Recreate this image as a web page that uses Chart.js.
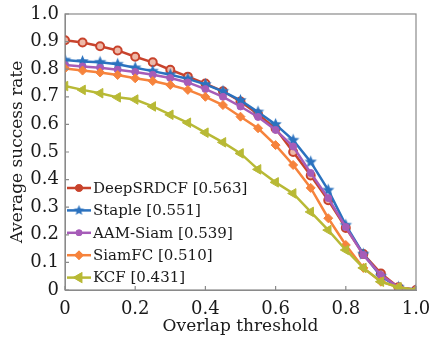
<!DOCTYPE html>
<html>
<head>
<meta charset="utf-8">
<script src="https://cdn.jsdelivr.net/npm/chart.js@4.4.1/dist/chart.umd.min.js"></script>
<style>
html,body{margin:0;padding:0;background:#fff;}
</style>
</head>
<body>
<canvas id="graph1" width="431" height="340"></canvas>
<script>
// overlap thresholds (x)
const thresholds = [0, 0.05, 0.1, 0.15, 0.2, 0.25, 0.3, 0.35, 0.4, 0.45, 0.5, 0.55, 0.6, 0.65, 0.7, 0.75, 0.8, 0.85, 0.9, 0.95, 1.0];

const names = ['DeepSRDCF [0.563]', 'Staple [0.551]', 'AAM-Siam [0.539]', 'SiamFC [0.510]', 'KCF [0.431]'];

const deepsrdcf = [0.905, 0.897, 0.883, 0.868, 0.845, 0.825, 0.798, 0.773, 0.748, 0.72, 0.683, 0.637, 0.585, 0.50, 0.415, 0.325, 0.225, 0.13, 0.06, 0.01, 0];
const staple    = [0.833, 0.828, 0.825, 0.818, 0.805, 0.793, 0.78, 0.765, 0.745, 0.72, 0.687, 0.645, 0.60, 0.543, 0.464, 0.362, 0.235, 0.13, 0.05, 0.01, 0];
const aamsiam   = [0.815, 0.81, 0.805, 0.798, 0.79, 0.78, 0.768, 0.752, 0.728, 0.70, 0.665, 0.627, 0.58, 0.52, 0.424, 0.333, 0.228, 0.127, 0.054, 0.01, 0];
const siamfc    = [0.803, 0.795, 0.788, 0.779, 0.767, 0.757, 0.743, 0.725, 0.70, 0.67, 0.628, 0.586, 0.525, 0.453, 0.37, 0.26, 0.163, 0.08, 0.03, 0.01, 0];
const kcf       = [0.739, 0.725, 0.713, 0.698, 0.69, 0.665, 0.635, 0.606, 0.57, 0.535, 0.495, 0.437, 0.39, 0.35, 0.283, 0.217, 0.145, 0.08, 0.03, 0.01, 0];

const xTicks = [0, 0.2, 0.4, 0.6, 0.8, 1.0];
const yTicks = [0, 0.1, 0.2, 0.3, 0.4, 0.5, 0.6, 0.7, 0.8, 0.9, 1.0];

const colors = ['#c8432c', '#2b72bf', '#a65cb8', '#f6833c', '#b8b935'];
const serif = "'DejaVu Serif', serif";

// filled 5 point star for Staple
function makeStar(r, color) {
    const c = document.createElement('canvas');
    c.width = c.height = r * 2 + 2;
    const g = c.getContext('2d');
    g.fillStyle = color;
    g.beginPath();
    for (let i = 0; i < 10; i++) {
        const rad = i % 2 ? r * 0.45 : r;
        const a = -Math.PI / 2 + i * Math.PI / 5;
        g.lineTo(r + 1 + rad * Math.cos(a), r + 1 + rad * Math.sin(a));
    }
    g.closePath();
    g.fill();
    return c;
}
const star = makeStar(6.5, colors[1]);
const starSmall = makeStar(5.5, colors[1]);

function pts(vals) {
    return thresholds.map((t, i) => ({x: t, y: vals[i]}));
}

const datasets = [
    {label: names[0], data: pts(deepsrdcf), borderColor: colors[0], backgroundColor: '#eeb9a8',
     pointStyle: 'circle', pointRadius: 4, pointBorderWidth: 2, order: 5},
    {label: names[1], data: pts(staple), borderColor: colors[1], backgroundColor: colors[1],
     pointStyle: star, order: 4},
    {label: names[2], data: pts(aamsiam), borderColor: colors[2], backgroundColor: colors[2],
     pointStyle: 'circle', pointRadius: 3.5, pointBorderWidth: 1, order: 3},
    {label: names[3], data: pts(siamfc), borderColor: colors[3], backgroundColor: colors[3],
     pointStyle: 'rectRot', pointRadius: 4.5, pointBorderWidth: 1, order: 2},
    {label: names[4], data: pts(kcf), borderColor: colors[4], backgroundColor: colors[4],
     pointStyle: 'triangle', pointRotation: -90, pointRadius: 5.5, pointBorderWidth: 1, order: 1}
];
datasets.forEach(d => { d.borderWidth = 2.5; d.tension = 0; });

// box round the plot + inward tick marks + legend inside the plot
const frame = {
    id: 'frame',
    afterDatasetsDraw(chart) {
        const ctx = chart.ctx, a = chart.chartArea;
        const xs = chart.scales.x, ys = chart.scales.y;
        ctx.save();
        ctx.strokeStyle = '#8a8a8a';
        ctx.lineWidth = 1.2;
        ctx.strokeRect(a.left, a.top, a.right - a.left, a.bottom - a.top);
        ctx.beginPath();
        yTicks.forEach(v => {
            const y = ys.getPixelForValue(v);
            ctx.moveTo(a.left, y); ctx.lineTo(a.left + 4, y);
        });
        xTicks.forEach(v => {
            const x = xs.getPixelForValue(v);
            ctx.moveTo(x, a.bottom); ctx.lineTo(x, a.bottom - 4);
        });
        ctx.stroke();

        // legend
        ctx.font = '15px ' + serif;
        ctx.textBaseline = 'middle';
        const y0 = a.bottom - 102;
        chart.data.datasets.forEach((d, i) => {
            const y = y0 + i * 22.4;
            ctx.strokeStyle = d.borderColor;
            ctx.lineWidth = 2.5;
            ctx.beginPath();
            ctx.moveTo(a.left + 2, y); ctx.lineTo(a.left + 26, y);
            ctx.stroke();
            if (i === 1) {
                ctx.drawImage(starSmall, a.left + 14 - 6.5, y - 6.5);
            } else {
                Chart.helpers.drawPoint(ctx, {
                    pointStyle: d.pointStyle, rotation: d.pointRotation || 0,
                    radius: d.pointRadius - 1.5, borderWidth: 1
                }, a.left + 14, y);
                ctx.fillStyle = d.backgroundColor === '#eeb9a8' ? d.borderColor : d.backgroundColor;
                ctx.strokeStyle = d.borderColor;
                ctx.fill(); ctx.stroke();
            }
            ctx.fillStyle = '#1a1a1a';
            ctx.fillText(d.label, a.left + 28, y + 1);
        });
        ctx.restore();
    }
};

const config = {
    type: 'line',
    data: {datasets: datasets},
    options: {
        responsive: false,
        animation: false,
        layout: {padding: {top: 14, right: 15, left: 0, bottom: 0}},
        plugins: {legend: {display: false}, tooltip: {enabled: false}},
        scales: {
            x: {
                type: 'linear', min: 0, max: 1,
                afterFit: s => { s.height = 50; s.paddingLeft = 0; s.paddingRight = 0; },
                afterBuildTicks: s => { s.ticks = xTicks.map(v => ({value: v})); },
                grid: {drawOnChartArea: false, drawTicks: false},
                border: {color: '#8a8a8a'},
                ticks: {
                    color: '#1a1a1a', padding: 9, maxRotation: 0,
                    font: {family: serif, size: 18},
                    callback: v => v === 0 ? '0' : v.toFixed(1)
                },
                title: {display: true, text: 'Overlap threshold', color: '#1a1a1a',
                        font: {family: serif, size: 17}, padding: {top: 0, bottom: 3}}
            },
            y: {
                min: 0, max: 1,
                afterFit: s => { s.width = 65; s.paddingTop = 0; s.paddingBottom = 0; },
                afterBuildTicks: s => { s.ticks = yTicks.map(v => ({value: v})); },
                grid: {drawOnChartArea: false, drawTicks: false},
                border: {color: '#8a8a8a'},
                ticks: {
                    color: '#1a1a1a', padding: 6,
                    font: {family: serif, size: 18},
                    callback: v => v === 0 ? '0' : v.toFixed(1)
                },
                title: {display: true, text: 'Average success rate', color: '#1a1a1a',
                        font: {family: serif, size: 17}, padding: {top: 7, bottom: 0}}
            }
        }
    },
    plugins: [frame]
};

const myChart = new Chart(document.querySelector('#graph1'), config);
</script>
</body>
</html>
